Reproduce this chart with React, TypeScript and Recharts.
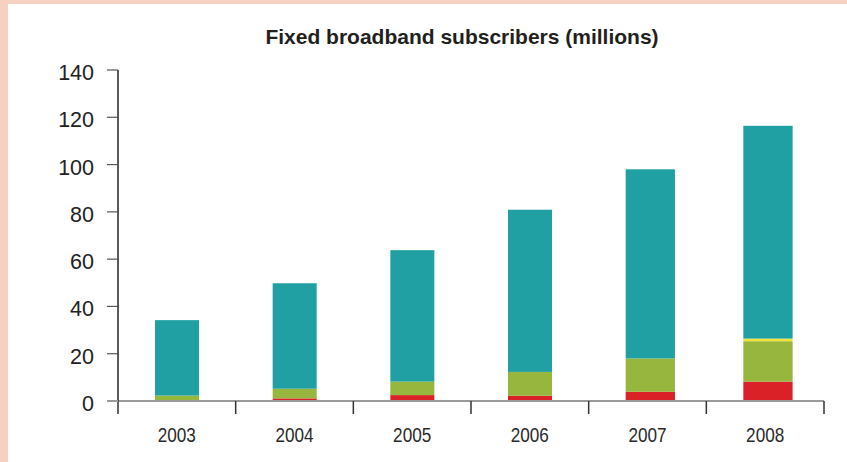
import React from 'react';
import { BarChart, Bar, XAxis, YAxis } from 'recharts';

// ---- data ----
const years = ['2003', '2004', '2005', '2006', '2007', '2008'];
const otherSubs = [0, 1.1, 2.5, 2.2, 3.9, 8.2];
const cableSubs = [2.3, 4.1, 5.7, 10.1, 14.1, 17.1];
const fibreSubs = [0, 0, 0, 0, 0, 1.1];
const dslSubs = [31.9, 44.6, 55.6, 68.6, 80.0, 90.0];
const yTicks = [0, 20, 40, 60, 80, 100, 120, 140];

const chartData = years.map((year, i) => ({
  year,
  other: otherSubs[i],
  cable: cableSubs[i],
  fibre: fibreSubs[i],
  dsl: dslSubs[i],
}));

// ---- styles / layout ----
const W = 847;
const H = 462;
const MARGIN = { top: 70, right: 23, bottom: 0, left: 0 };
const Y_AXIS_W = 118;
const X_AXIS_H = 61;
const HALF_BAND = (W - MARGIN.left - MARGIN.right - Y_AXIS_W) / years.length / 2;
const PINK = '#F6D1C1';
const TEAL = '#20A0A3';
const GREEN = '#96B63D';
const RED = '#DA2128';
const YELLOW = '#F4E33B';
const barWidthScale = [1, 1, 1, 1, 1.12, 1.12];
const SANS = 'Liberation Sans, Arial, sans-serif';

const BarShape = (props: any) => {
  const { x, y, width, height, fill, index } = props;
  if (!height || height <= 0) return null;
  const w = width * (barWidthScale[index] ?? 1);
  return <rect x={x} y={y} width={w} height={height} fill={fill} />;
};

const XTick = (props: any) => {
  const { x, y, payload, index } = props;
  const last = index === years.length - 1;
  return (
    <g>
      <line x1={x - HALF_BAND} x2={x - HALF_BAND} y1={y - 13} y2={y} stroke="#333" strokeWidth={1.5} />
      {last && (
        <line x1={x + HALF_BAND} x2={x + HALF_BAND} y1={y - 13} y2={y} stroke="#333" strokeWidth={1.5} />
      )}
      <g transform={`translate(${x} ${y + 28}) scale(0.88 1)`}>
        <text x={0} y={0} textAnchor="middle" fontFamily={SANS} fontSize={19.5} fill="#2a2a2a">
          {payload.value}
        </text>
      </g>
    </g>
  );
};

const YTick = (props: any) => {
  const { x, y, payload } = props;
  const zero = payload.value === 0;
  return (
    <g>
      <line
        x1={x + 13}
        x2={x + 24}
        y1={y}
        y2={y}
        stroke={zero ? '#9a9a9a' : '#555'}
        strokeWidth={zero ? 2 : 1.2}
      />
      <text x={x} y={y + 10} textAnchor="end" fontFamily={SANS} fontSize={21.5} fill="#222">
        {payload.value}
      </text>
    </g>
  );
};

export default function App() {
  return (
    <div style={{ position: 'absolute', left: 0, top: 0, width: W, height: H, background: PINK, overflow: 'hidden' }}>
      <div style={{ position: 'absolute', left: 8, top: 4, right: 0, bottom: 0, background: '#fff' }} />
      <div style={{ position: 'absolute', left: 0, top: 0 }}>
        <BarChart width={W} height={H} data={chartData} margin={MARGIN} barSize={44}>
          <XAxis
            dataKey="year"
            height={X_AXIS_H}
            axisLine={{ stroke: '#9a9a9a', strokeWidth: 2 }}
            tickLine={false}
            tickSize={13}
            tickMargin={0}
            tick={<XTick />}
            interval={0}
          />
          <YAxis
            width={Y_AXIS_W}
            domain={[0, 140]}
            ticks={yTicks}
            interval={0}
            axisLine={{ stroke: '#222', strokeWidth: 1.5 }}
            tickLine={false}
            tickSize={11}
            tickMargin={13}
            tick={<YTick />}
          />
          <Bar dataKey="other" stackId="s" fill={RED} isAnimationActive={false} shape={<BarShape />} />
          <Bar dataKey="cable" stackId="s" fill={GREEN} isAnimationActive={false} shape={<BarShape />} />
          <Bar dataKey="fibre" stackId="s" fill={YELLOW} isAnimationActive={false} shape={<BarShape />} />
          <Bar dataKey="dsl" stackId="s" fill={TEAL} isAnimationActive={false} shape={<BarShape />} />
        </BarChart>
      </div>
      <svg width={W} height={H} style={{ position: 'absolute', left: 0, top: 0, pointerEvents: 'none' }}>
        <text x={462} y={44} textAnchor="middle" fontFamily={SANS} fontWeight="bold" fontSize={21} fill="#231f20">
          Fixed broadband subscribers (millions)
        </text>
      </svg>
    </div>
  );
}
